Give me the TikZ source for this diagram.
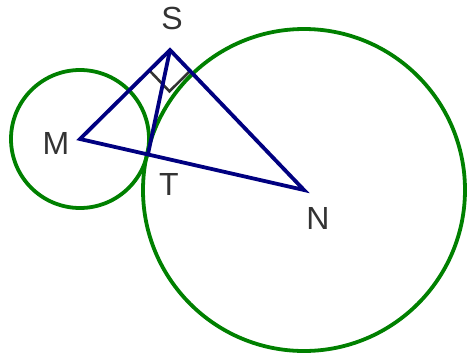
\documentclass[tikz,border=0pt]{standalone}
\usepackage{fontspec}
\setmainfont{Liberation Sans}
\usepackage{tikz}
\usetikzlibrary{calc}
\definecolor{circgreen}{RGB}{0,128,0}
\definecolor{trinavy}{RGB}{0,0,128}
\definecolor{labgray}{RGB}{51,51,51}

\begin{document}
\begin{tikzpicture}[x=1pt,y=-1pt,
  circ/.style={draw=circgreen,line width=3.8pt},
  tri/.style={draw=trinavy,line width=3.8pt},
  lab/.style={text=labgray,font=\fontsize{32}{38}\selectfont,inner sep=0pt}]
\useasboundingbox (0,0) rectangle (467,360);
\coordinate (M) at (80,139);
\coordinate (N) at (304,190);
\coordinate (S) at (170,50);
\coordinate (T) at (148,154);
\draw[circ] (M) circle[radius=69pt];
\draw[circ] (N) circle[radius=161pt];
\coordinate (ra) at ($(S)!29pt!(M)$);
\coordinate (rb) at ($(S)!29pt!(N)$);
\draw[labgray,line width=2.6pt] (ra) -- ($(ra)+(rb)-(S)$) -- (rb);
\draw[tri] (M) -- (S) -- (N) -- cycle;
\draw[tri] (S) -- (T);
\node[lab] (labS) at (172,18) {S};
\node[lab] (labM) at (56,143) {M};
\node[lab] (labT) at (169,184) {T};
\node[lab] (labN) at (318,218) {N};
\end{tikzpicture}
\end{document}
